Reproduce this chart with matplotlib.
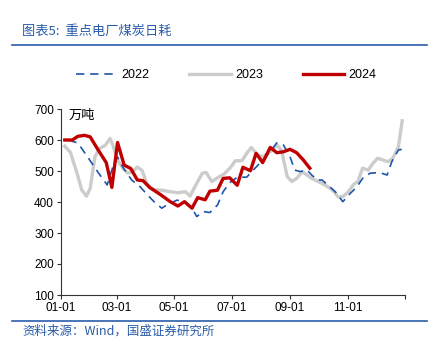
import matplotlib.pyplot as plt
from matplotlib.lines import Line2D

plt.rcParams["font.family"] = ["Liberation Sans", "Noto Sans CJK SC", "DejaVu Sans"]

# day of year / 万吨
days_2022 = [8, 18, 29, 39, 49, 55, 60, 66, 75, 84, 92, 100, 107, 112, 123, 132,
             139, 144, 151, 158, 166, 172, 179, 187, 197, 204, 214, 222, 229, 236,
             243, 248, 254, 261, 266, 272, 277, 283, 291, 299, 307, 314, 320, 328,
             338, 346, 351, 358, 362]
vals_2022 = [600, 590, 542, 497, 455, 513, 545, 510, 471, 449, 422, 397, 380, 390,
             406, 400, 380, 353, 369, 366, 390, 433, 462, 480, 480, 503, 535, 562,
             591, 584, 546, 503, 498, 503, 487, 471, 471, 455, 433, 401, 428, 449,
             476, 493, 495, 487, 530, 568, 570]

days_2023 = [4, 10, 17, 22, 27, 31, 36, 41, 47, 52, 55, 60, 66, 71, 76, 81, 86, 91,
             98, 107, 116, 124, 132, 137, 142, 150, 154, 160, 167, 173, 180, 185,
             192, 197, 202, 208, 214, 222, 229, 234, 240, 245, 250, 256, 261, 266,
             273, 280, 288, 294, 299, 305, 310, 315, 320, 326, 331, 336, 342, 347,
             352, 358, 362]
vals_2023 = [580, 560, 493, 439, 419, 444, 546, 573, 583, 605, 583, 535, 508, 493,
             498, 513, 502, 460, 440, 438, 433, 430, 433, 419, 449, 493, 495, 466,
             480, 490, 512, 533, 533, 557, 576, 553, 546, 562, 584, 567, 482, 466,
             476, 498, 487, 476, 466, 455, 439, 417, 417, 433, 455, 466, 509, 503,
             525, 541, 535, 530, 541, 578, 662]

days_2024 = [4, 12, 18, 25, 31, 39, 48, 54, 60, 67, 74, 81, 87, 94, 105, 116, 124,
             131, 139, 145, 153, 158, 166, 172, 179, 187, 193, 201, 207, 214, 222,
             229, 236, 243, 250, 257, 264]
vals_2024 = [600, 600, 612, 615, 610, 570, 527, 447, 592, 519, 508, 471, 469, 447,
             425, 401, 387, 401, 380, 414, 407, 435, 438, 476, 478, 454, 512, 501,
             557, 527, 576, 559, 562, 570, 559, 536, 509]

tick_days = [0, 59, 120, 181, 243, 304, 365]
tick_labels = ["01-01", "03-01", "05-01", "07-01", "09-01", "11-01", ""]

blue = "#1F55A8"
gray = "#CCCCCC"
red = "#C00000"
title_blue = "#2A5CAA"

fig = plt.figure(figsize=(4.47, 3.47), dpi=100)
W, H = 447, 347
ax = fig.add_axes([61 / W, 1 - 295 / H, 344 / W, 186 / H])

ax.plot(days_2023, vals_2023, color=gray, lw=2.4, solid_joinstyle="round", zorder=2)
ax.plot(days_2022, vals_2022, color=blue, lw=1.2, dashes=(5, 3.5), zorder=3)
ax.plot(days_2024, vals_2024, color=red, lw=2.4, solid_joinstyle="round", zorder=4)

ax.set_xlim(0, 365)
ax.set_ylim(100, 700)
ax.set_yticks(range(100, 701, 100))
ax.set_xticks(tick_days)
ax.set_xticklabels(tick_labels)
ax.tick_params(labelsize=8.5, length=3, width=0.8, color="#333333", pad=2)
for s in ["top", "right"]:
    ax.spines[s].set_visible(False)
for s in ["left", "bottom"]:
    ax.spines[s].set_color("#333333")
    ax.spines[s].set_linewidth(0.8)
ax.text(8, 678, "万吨", fontsize=9.5, va="center", ha="left",
        family=["Noto Sans CJK SC", "DejaVu Sans"])

# header
fig.text(22 / W, 1 - 31 / H, "图表5:  重点电厂煤炭日耗", color=title_blue, fontsize=9.5,
         style="italic", va="center", family=["Noto Sans CJK SC", "DejaVu Sans"])
fig.add_artist(Line2D([12 / W, 427 / W], [1 - 45 / H] * 2, color=title_blue, lw=1.2))

# legend
handles = [Line2D([], [], color=blue, lw=1.2, dashes=(5, 3.5)),
           Line2D([], [], color=gray, lw=2.4),
           Line2D([], [], color=red, lw=2.4)]
fig.legend(handles, ["2022", "2023", "2024"], loc="center", ncol=3,
           bbox_to_anchor=(226 / W, 1 - 75 / H), frameon=False, fontsize=9,
           handlelength=3.3, handletextpad=0.35, columnspacing=3.2)

# footer
fig.add_artist(Line2D([12 / W, 427 / W], [1 - 321 / H] * 2, color=title_blue, lw=1.2))
fig.text(22 / W, 1 - 331 / H, "资料来源：Wind，国盛证券研究所", color=title_blue, fontsize=9,
         style="italic", va="center", family=["Noto Sans CJK SC", "DejaVu Sans"])

fig.savefig("out.png", dpi=100)
